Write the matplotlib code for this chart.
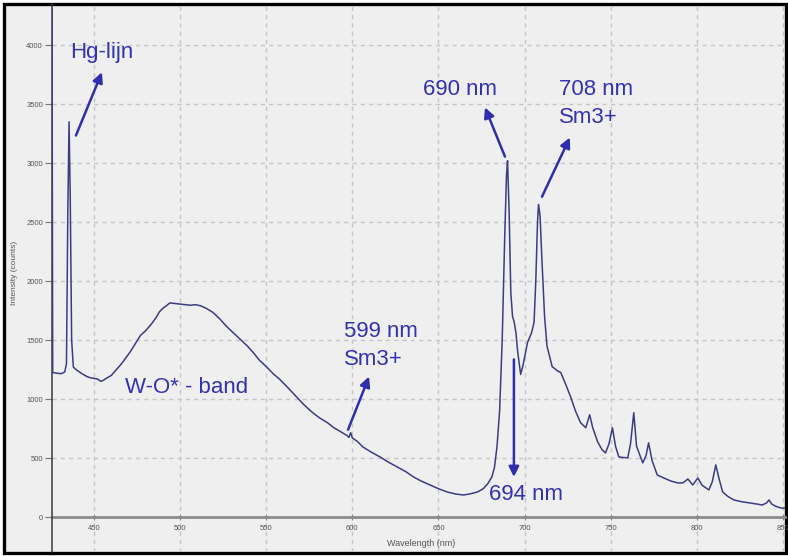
import matplotlib
matplotlib.use("Agg")
import matplotlib.pyplot as plt
from matplotlib.patches import Rectangle, FancyArrowPatch

plt.rcParams['font.family'] = ['Liberation Sans', 'DejaVu Sans']

wavelength = [425.6, 426.0, 428, 431, 433, 434, 434.8, 435.5, 436.2, 437.0, 438, 440, 443, 446, 448,
              450, 452, 454, 455.5, 457, 460, 463, 466, 469, 471, 474, 477, 480, 483, 486, 488, 490,
              492, 494, 497, 500, 503, 506, 509, 512, 515, 519, 523, 527, 531, 535, 539, 542.4, 546,
              550.6, 554, 558, 563, 568, 572, 577, 581, 585.5, 589, 593, 597, 598, 599, 600, 603,
              606, 611, 616, 621, 626, 631, 635.5, 640, 645, 650, 655, 660, 664.5, 668, 672.7, 676,
              678.5, 681, 682.5, 684, 685.5, 687, 688.5, 689.5, 690.1, 691, 692, 693, 694, 695, 696,
              697.7, 699, 701.7, 704, 705.5, 706.5, 707.5, 708.1, 709, 710, 711.6, 713, 716, 719,
              721, 724, 726.7, 729.5, 732.5, 735.5, 737.8, 739.5, 742.4, 745, 747, 749, 751, 752.8,
              754.7, 757, 759.9, 761.5, 763.4, 765, 768.6, 770.5, 772, 774, 777, 781, 785, 789, 792,
              794.8, 797.6, 800.6, 803, 807, 809, 811, 813, 815, 818, 821.5, 826, 831, 835, 838,
              840.5, 841.9, 843.5, 846, 848.8, 851.7]
intensity = [4310, 1225, 1220, 1215, 1230, 1300, 2600, 3350, 2700, 1500, 1270, 1245, 1215, 1190, 1180,
             1175, 1170, 1150, 1160, 1175, 1200, 1250, 1300, 1360, 1400, 1470, 1540, 1580, 1630, 1690,
             1740, 1770, 1790, 1815, 1810, 1805, 1800, 1795, 1800, 1790, 1770, 1735, 1680, 1615, 1560,
             1505, 1450, 1395, 1330, 1267, 1215, 1165, 1090, 1012, 950, 884, 840, 800, 760, 725, 690,
             675, 715, 670, 640, 595, 550, 510, 465, 425, 385, 340, 305, 272, 240, 213, 195, 187, 195,
             213, 240, 280, 340, 420, 600, 900, 1500, 2400, 2900, 3020, 2600, 1900, 1700, 1650, 1560,
             1400, 1210, 1280, 1480, 1560, 1650, 2000, 2500, 2650, 2550, 2200, 1700, 1450, 1275, 1240,
             1225, 1120, 1020, 900, 800, 757, 867, 760, 638, 570, 544, 620, 757, 600, 510, 505, 502,
             620, 884, 600, 459, 520, 629, 480, 357, 330, 305, 289, 290, 323, 272, 331, 270, 230, 300,
             442, 320, 213, 175, 145, 130, 119, 110, 102, 120, 145, 110, 90, 77, 75]

x_ticks = [450, 500, 550, 600, 650, 700, 750, 800, 850]
y_ticks = [0, 500, 1000, 1500, 2000, 2500, 3000, 3500, 4000]

W, H = 788, 556
fig = plt.figure(figsize=(W / 100, H / 100), dpi=100, facecolor='white')

# background panel with black frame
bg = fig.add_axes([0, 0, 1, 1])
bg.set_xlim(0, W)
bg.set_ylim(H, 0)
bg.axis('off')
bg.add_patch(Rectangle((4.5, 3.5), 786 - 4.5, 552.5 - 3.5, facecolor='#efefef',
                       edgecolor='black', lw=2.4))

ax = fig.add_axes([52 / W, 4.5 / H, (785 - 52) / W, (551 - 4.5) / H])
ax.set_facecolor('none')
ax.set_xlim(425.6, 851.2)
ax.set_ylim(-292, 4340)

grid_kw = dict(color='#c6c6c6', lw=1.0, ls=(0, (3, 3)), zorder=1)
for xv in x_ticks:
    ax.axvline(xv, **grid_kw)
for yv in y_ticks[1:]:
    ax.axhline(yv, **grid_kw)

ax.plot(wavelength, intensity, color='#3c3c82', lw=1.1, zorder=3)

for s in ['top', 'right']:
    ax.spines[s].set_visible(False)
ax.spines['left'].set_color('#3a3a3a')
ax.spines['left'].set_linewidth(1.1)
ax.spines['bottom'].set_position(('data', 0))
ax.spines['bottom'].set_color('#8a8a8a')
ax.spines['bottom'].set_linewidth(2.0)
ax.spines['bottom'].set_zorder(2)

ax.set_xticks(x_ticks)
ax.set_yticks(y_ticks)
ax.tick_params(axis='y', direction='out', length=5, width=0.8, color='#777777',
               labelsize=5.5, labelcolor='#555555', pad=1.5)
ax.tick_params(axis='x', direction='inout', length=5, width=0.8, color='#888888',
               labelsize=5.5, labelcolor='#555555', pad=3)

fig.text(421 / W, 1 - 543 / H, 'Wavelength (nm)', fontsize=6.5, color='#555555',
         ha='center', va='center')
fig.text(15 / W, 1 - 273 / H, 'Intensity (counts)', fontsize=6, color='#555555',
         ha='center', va='center', rotation=90)

txt_col = '#3232b4'
arr_col = '#2e2eae'
fs = 16


def label(x, y, s):
    ax.text(x, y, s, color=txt_col, fontsize=fs, ha='left', va='center', zorder=5)


def arrow(x0, y0, x1, y1):
    ax.add_patch(FancyArrowPatch((x0, y0), (x1, y1), arrowstyle='-|>', mutation_scale=15,
                                 color=arr_col, lw=1.8, shrinkA=0, shrinkB=0, zorder=5))


label(436.1, 3935, 'Hg-lijn')
arrow(439.5, 3234, 454.6, 3770)

label(468, 1098, 'W-O* - band')

label(595.1, 1574, '599 nm')
label(595.1, 1336, 'Sm3+')
arrow(597.5, 740, 609.7, 1191)

label(641, 3626, '690 nm')
arrow(688.6, 3055, 677, 3472)

label(720, 3626, '708 nm')
label(720, 3387, 'Sm3+')
arrow(710.1, 2715, 726.3, 3217)

label(679.3, 187, '694 nm')
arrow(693.8, 1336, 693.8, 340)

fig.savefig('out.png', dpi=100, facecolor=fig.get_facecolor())
